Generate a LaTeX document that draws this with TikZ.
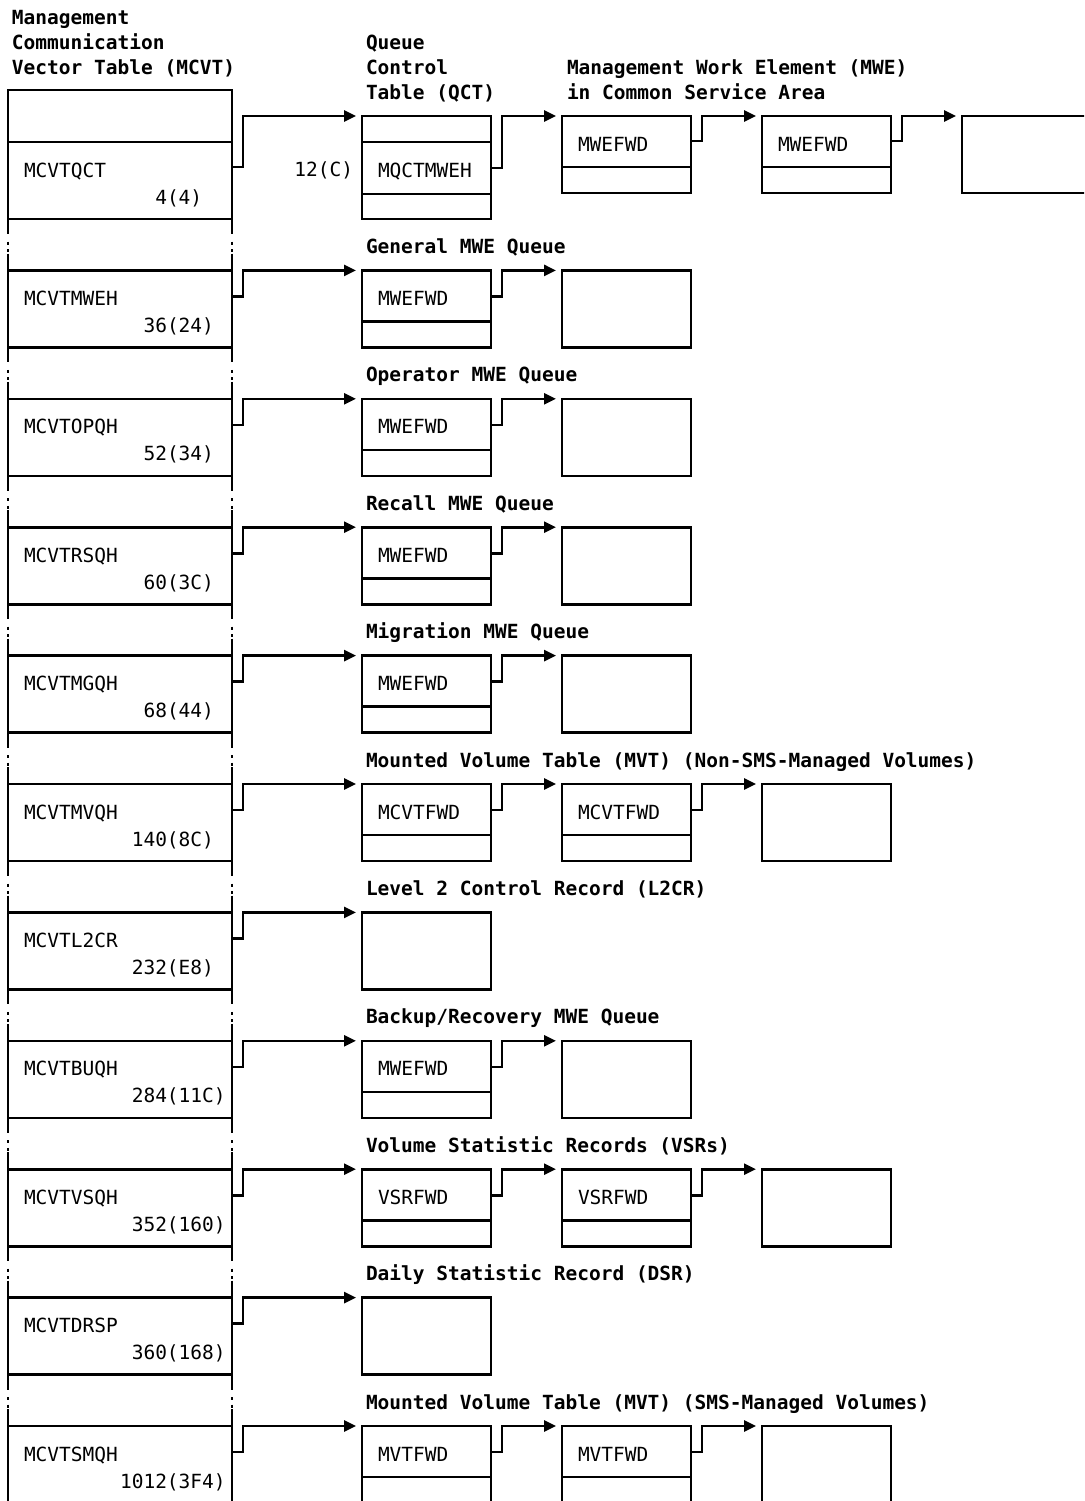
\documentclass[tikz,border=0pt]{standalone}
\usepackage{fontspec}
\setmainfont{DejaVu Sans Mono}
\usetikzlibrary{positioning,arrows.meta}

\begin{document}
\begin{tikzpicture}[
    x=1pt, y=1pt, line width=2.6pt,
    every node/.style={inner sep=0pt, outer sep=0pt, font=\fontsize{19.5pt}{25pt}\selectfont},
    table/.style={draw, minimum width=224pt, minimum height=77pt},
    lid/.style={draw, minimum width=224pt, minimum height=52pt},
    fwd/.style={draw, minimum width=129pt, minimum height=51pt, text width=97pt, inner xsep=16pt, align=left, text height=19pt, text depth=0pt},
    foot/.style={draw, minimum width=129pt, minimum height=26pt},
    blank/.style={draw, minimum width=129pt, minimum height=77pt},
    head/.style={anchor=base west, align=left, font=\fontsize{19.5pt}{25pt}\selectfont\bfseries},
    field/.style={anchor=base west},
    link/.style={-{Triangle[length=12pt, width=11pt]}},
    rail/.style={line width=2.8pt, dash pattern=on 15pt off 7.5pt on 3pt off 4.5pt on 3pt off 1.5pt on 30pt}
]
\useasboundingbox (0,0) rectangle (1084,-1501);
\clip (0,0) rectangle (1084,-1501);

% MCVT
\node[lid, anchor=north west] (mctop) at (8,-90) {};
\node[table, below=0pt of mctop] (mc0) {};
\node[table, below=51.4pt of mc0] (mc1) {};
\node[table, below=51.4pt of mc1] (mc2) {};
\node[table, below=51.4pt of mc2] (mc3) {};
\node[table, below=51.4pt of mc3] (mc4) {};
\node[table, below=51.4pt of mc4] (mc5) {};
\node[table, below=51.4pt of mc5] (mc6) {};
\node[table, below=51.4pt of mc6] (mc7) {};
\node[table, below=51.4pt of mc7] (mc8) {};
\node[table, below=51.4pt of mc8] (mc9) {};
\node[table, below=51.4pt of mc9] (mc10) {};
\node[head] (hmc) at ([xshift=4pt, yshift=15pt]mctop.north west) {Management\\Communication\\Vector Table (MCVT)};

% Gaps
\draw[rail] (mc0.south west) -- (mc1.north west) (mc0.south east) -- (mc1.north east);
\draw[rail] (mc1.south west) -- (mc2.north west) (mc1.south east) -- (mc2.north east);
\draw[rail] (mc2.south west) -- (mc3.north west) (mc2.south east) -- (mc3.north east);
\draw[rail] (mc3.south west) -- (mc4.north west) (mc3.south east) -- (mc4.north east);
\draw[rail] (mc4.south west) -- (mc5.north west) (mc4.south east) -- (mc5.north east);
\draw[rail] (mc5.south west) -- (mc6.north west) (mc5.south east) -- (mc6.north east);
\draw[rail] (mc6.south west) -- (mc7.north west) (mc6.south east) -- (mc7.north east);
\draw[rail] (mc7.south west) -- (mc8.north west) (mc7.south east) -- (mc8.north east);
\draw[rail] (mc8.south west) -- (mc9.north west) (mc8.south east) -- (mc9.north east);
\draw[rail] (mc9.south west) -- (mc10.north west) (mc9.south east) -- (mc10.north east);

% Fields
\node[field] (n0) at ([xshift=16pt, yshift=-35pt]mc0.north west) {MCVTQCT};
\node[field] (o0) at ([xshift=159pt, yshift=-62pt]mc0.north west) {\llap{4}(4)};
\node[field] (n1) at ([xshift=16pt, yshift=-35pt]mc1.north west) {MCVTMWEH};
\node[field] (o1) at ([xshift=159pt, yshift=-62pt]mc1.north west) {\llap{36}(24)};
\node[field] (n2) at ([xshift=16pt, yshift=-35pt]mc2.north west) {MCVTOPQH};
\node[field] (o2) at ([xshift=159pt, yshift=-62pt]mc2.north west) {\llap{52}(34)};
\node[field] (n3) at ([xshift=16pt, yshift=-35pt]mc3.north west) {MCVTRSQH};
\node[field] (o3) at ([xshift=159pt, yshift=-62pt]mc3.north west) {\llap{60}(3C)};
\node[field] (n4) at ([xshift=16pt, yshift=-35pt]mc4.north west) {MCVTMGQH};
\node[field] (o4) at ([xshift=159pt, yshift=-62pt]mc4.north west) {\llap{68}(44)};
\node[field] (n5) at ([xshift=16pt, yshift=-35pt]mc5.north west) {MCVTMVQH};
\node[field] (o5) at ([xshift=159pt, yshift=-62pt]mc5.north west) {\llap{140}(8C)};
\node[field] (n6) at ([xshift=16pt, yshift=-35pt]mc6.north west) {MCVTL2CR};
\node[field] (o6) at ([xshift=159pt, yshift=-62pt]mc6.north west) {\llap{232}(E8)};
\node[field] (n7) at ([xshift=16pt, yshift=-35pt]mc7.north west) {MCVTBUQH};
\node[field] (o7) at ([xshift=159pt, yshift=-62pt]mc7.north west) {\llap{284}(11C)};
\node[field] (n8) at ([xshift=16pt, yshift=-35pt]mc8.north west) {MCVTVSQH};
\node[field] (o8) at ([xshift=159pt, yshift=-62pt]mc8.north west) {\llap{352}(160)};
\node[field] (n9) at ([xshift=16pt, yshift=-35pt]mc9.north west) {MCVTDRSP};
\node[field] (o9) at ([xshift=159pt, yshift=-62pt]mc9.north west) {\llap{360}(168)};
\node[field] (n10) at ([xshift=16pt, yshift=-35pt]mc10.north west) {MCVTSMQH};
\node[field] (o10) at ([xshift=159pt, yshift=-62pt]mc10.north west) {\llap{1012}(3F4)};

% QCT and MWE chain
\node[foot, right=130pt of mctop.south east, anchor=south west] (qt) {};
\node[fwd, minimum height=52pt, below=0pt of qt] (qm) {MQCTMWEH};
\node[foot, minimum height=25pt, below=0pt of qm] (qb) {};
\node[anchor=base east] (qo) at ([xshift=-9pt, yshift=-34pt]qm.north west) {12(C)};
\node[head] (hqct) at ([xshift=4pt, yshift=16pt]qt.north west) {Queue\\Control\\Table (QCT)};
\node[fwd, right=71pt of qt.north east, anchor=north west] (w1) {MWEFWD};
\node[foot, below=0pt of w1] (w1f) {};
\node[fwd, right=71pt of w1.north east, anchor=north west] (w2) {MWEFWD};
\node[foot, below=0pt of w2] (w2f) {};
\node[blank, right=71pt of w2.north east, anchor=north west] (w3) {};
\node[head] (hmwe) at ([xshift=5pt, yshift=16pt]w1.north west) {Management Work Element (MWE)\\in Common Service Area};
\draw[link] ([yshift=-25pt]mc0.north east) -- ++(11pt,0) |- ([xshift=-6pt]qt.north west);
\draw[link] ([yshift=-26pt]qm.north east) -- ++(11pt,0) |- ([xshift=-6pt]w1.north west);
\draw[link] ([yshift=-25pt]w1.north east) -- ++(11pt,0) |- ([xshift=-6pt]w2.north west);
\draw[link] ([yshift=-25pt]w2.north east) -- ++(11pt,0) |- ([xshift=-6pt]w3.north west);

% General MWE queue
\node[fwd, right=130pt of mc1.north east, anchor=north west] (a1) {MWEFWD};
\node[foot, below=0pt of a1] (a1f) {};
\node[blank, right=71pt of a1.north east, anchor=north west] (e1) {};
\node[head] (h1) at ([xshift=4pt, yshift=17pt]a1.north west) {General MWE Queue};
\draw[link] ([yshift=-26pt]mc1.north east) -- ++(11pt,0) |- ([xshift=-6pt]a1.north west);
\draw[link] ([yshift=-26pt]a1.north east) -- ++(11pt,0) |- ([xshift=-6pt]e1.north west);

% Operator MWE queue
\node[fwd, right=130pt of mc2.north east, anchor=north west] (a2) {MWEFWD};
\node[foot, below=0pt of a2] (a2f) {};
\node[blank, right=71pt of a2.north east, anchor=north west] (e2) {};
\node[head] (h2) at ([xshift=4pt, yshift=17pt]a2.north west) {Operator MWE Queue};
\draw[link] ([yshift=-26pt]mc2.north east) -- ++(11pt,0) |- ([xshift=-6pt]a2.north west);
\draw[link] ([yshift=-26pt]a2.north east) -- ++(11pt,0) |- ([xshift=-6pt]e2.north west);

% Recall MWE queue
\node[fwd, right=130pt of mc3.north east, anchor=north west] (a3) {MWEFWD};
\node[foot, below=0pt of a3] (a3f) {};
\node[blank, right=71pt of a3.north east, anchor=north west] (e3) {};
\node[head] (h3) at ([xshift=4pt, yshift=17pt]a3.north west) {Recall MWE Queue};
\draw[link] ([yshift=-26pt]mc3.north east) -- ++(11pt,0) |- ([xshift=-6pt]a3.north west);
\draw[link] ([yshift=-26pt]a3.north east) -- ++(11pt,0) |- ([xshift=-6pt]e3.north west);

% Migration MWE queue
\node[fwd, right=130pt of mc4.north east, anchor=north west] (a4) {MWEFWD};
\node[foot, below=0pt of a4] (a4f) {};
\node[blank, right=71pt of a4.north east, anchor=north west] (e4) {};
\node[head] (h4) at ([xshift=4pt, yshift=17pt]a4.north west) {Migration MWE Queue};
\draw[link] ([yshift=-26pt]mc4.north east) -- ++(11pt,0) |- ([xshift=-6pt]a4.north west);
\draw[link] ([yshift=-26pt]a4.north east) -- ++(11pt,0) |- ([xshift=-6pt]e4.north west);

% MVT, non-SMS-managed
\node[fwd, right=130pt of mc5.north east, anchor=north west] (a5) {MCVTFWD};
\node[foot, below=0pt of a5] (a5f) {};
\node[fwd, right=71pt of a5.north east, anchor=north west] (b5) {MCVTFWD};
\node[foot, below=0pt of b5] (b5f) {};
\node[blank, right=71pt of b5.north east, anchor=north west] (e5) {};
\node[head] (h5) at ([xshift=4pt, yshift=17pt]a5.north west) {Mounted Volume Table (MVT) (Non-SMS-Managed Volumes)};
\draw[link] ([yshift=-26pt]mc5.north east) -- ++(11pt,0) |- ([xshift=-6pt]a5.north west);
\draw[link] ([yshift=-26pt]a5.north east) -- ++(11pt,0) |- ([xshift=-6pt]b5.north west);
\draw[link] ([yshift=-26pt]b5.north east) -- ++(11pt,0) |- ([xshift=-6pt]e5.north west);

% L2CR
\node[blank, right=130pt of mc6.north east, anchor=north west] (a6) {};
\node[head] (h6) at ([xshift=4pt, yshift=17pt]a6.north west) {Level 2 Control Record (L2CR)};
\draw[link] ([yshift=-26pt]mc6.north east) -- ++(11pt,0) |- ([xshift=-6pt]a6.north west);

% Backup/recovery MWE queue
\node[fwd, right=130pt of mc7.north east, anchor=north west] (a7) {MWEFWD};
\node[foot, below=0pt of a7] (a7f) {};
\node[blank, right=71pt of a7.north east, anchor=north west] (e7) {};
\node[head] (h7) at ([xshift=4pt, yshift=17pt]a7.north west) {Backup/Recovery MWE Queue};
\draw[link] ([yshift=-26pt]mc7.north east) -- ++(11pt,0) |- ([xshift=-6pt]a7.north west);
\draw[link] ([yshift=-26pt]a7.north east) -- ++(11pt,0) |- ([xshift=-6pt]e7.north west);

% VSRs
\node[fwd, right=130pt of mc8.north east, anchor=north west] (a8) {VSRFWD};
\node[foot, below=0pt of a8] (a8f) {};
\node[fwd, right=71pt of a8.north east, anchor=north west] (b8) {VSRFWD};
\node[foot, below=0pt of b8] (b8f) {};
\node[blank, right=71pt of b8.north east, anchor=north west] (e8) {};
\node[head] (h8) at ([xshift=4pt, yshift=17pt]a8.north west) {Volume Statistic Records (VSRs)};
\draw[link] ([yshift=-26pt]mc8.north east) -- ++(11pt,0) |- ([xshift=-6pt]a8.north west);
\draw[link] ([yshift=-26pt]a8.north east) -- ++(11pt,0) |- ([xshift=-6pt]b8.north west);
\draw[link] ([yshift=-26pt]b8.north east) -- ++(11pt,0) |- ([xshift=-6pt]e8.north west);

% DSR
\node[blank, right=130pt of mc9.north east, anchor=north west] (a9) {};
\node[head] (h9) at ([xshift=4pt, yshift=17pt]a9.north west) {Daily Statistic Record (DSR)};
\draw[link] ([yshift=-26pt]mc9.north east) -- ++(11pt,0) |- ([xshift=-6pt]a9.north west);

% MVT, SMS-managed
\node[fwd, right=130pt of mc10.north east, anchor=north west] (a10) {MVTFWD};
\node[foot, below=0pt of a10] (a10f) {};
\node[fwd, right=71pt of a10.north east, anchor=north west] (b10) {MVTFWD};
\node[foot, below=0pt of b10] (b10f) {};
\node[blank, right=71pt of b10.north east, anchor=north west] (e10) {};
\node[head] (h10) at ([xshift=4pt, yshift=17pt]a10.north west) {Mounted Volume Table (MVT) (SMS-Managed Volumes)};
\draw[link] ([yshift=-26pt]mc10.north east) -- ++(11pt,0) |- ([xshift=-6pt]a10.north west);
\draw[link] ([yshift=-26pt]a10.north east) -- ++(11pt,0) |- ([xshift=-6pt]b10.north west);
\draw[link] ([yshift=-26pt]b10.north east) -- ++(11pt,0) |- ([xshift=-6pt]e10.north west);

\end{tikzpicture}
\end{document}
